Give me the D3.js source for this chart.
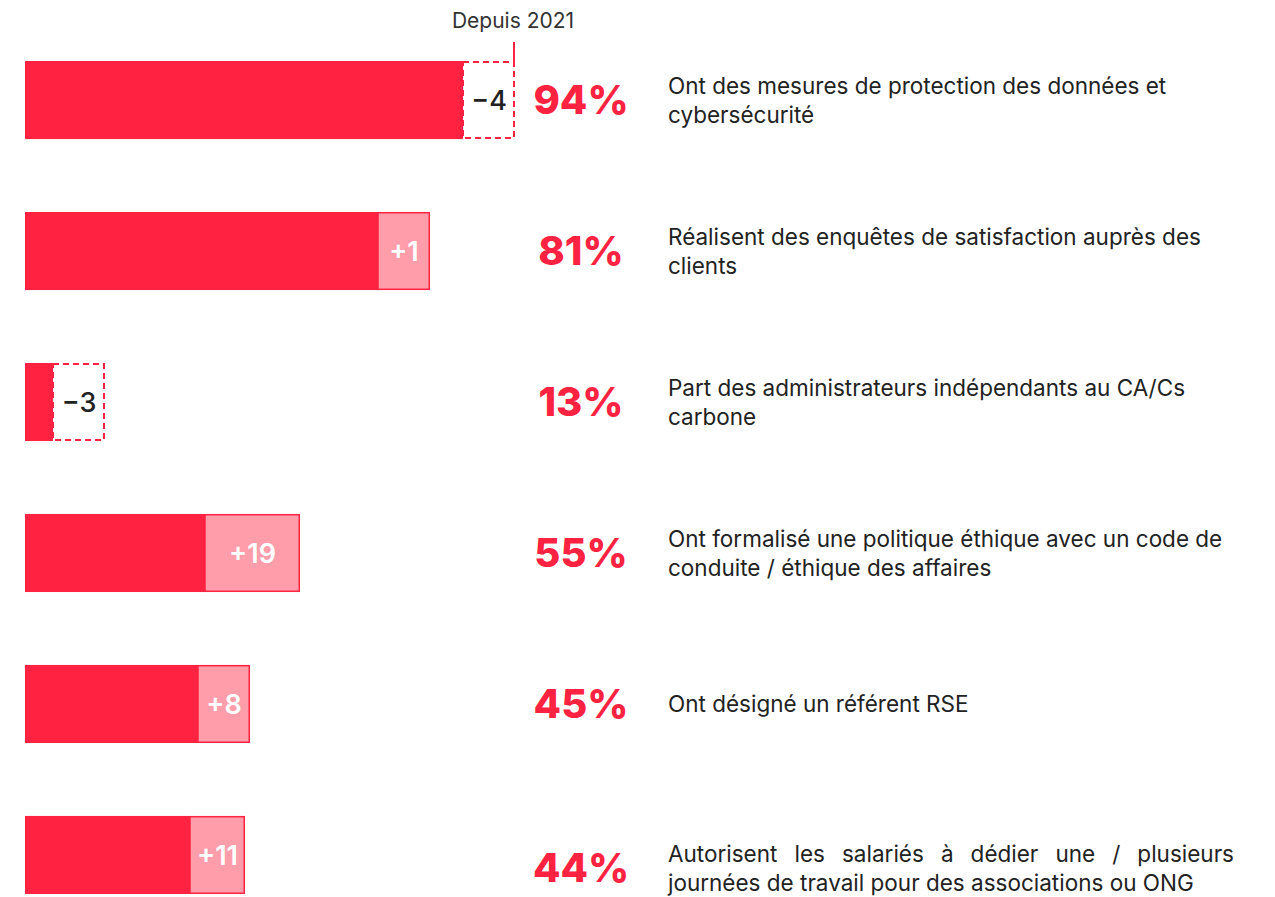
<!DOCTYPE html>
<html>
<head>
<meta charset="utf-8">
<script src="https://cdn.jsdelivr.net/npm/d3@7"></script>
<style>
  body { margin: 0; background: #fff; }
  svg { display: block; font-family: Inter, "Noto Sans", sans-serif; }
</style>
</head>
<body>
<div id="chart"></div>
<script>
// values
const labels = [
  ["Ont des mesures de protection des données et", "cybersécurité"],
  ["Réalisent des enquêtes de satisfaction auprès des", "clients"],
  ["Part des administrateurs indépendants au CA/Cs", "carbone"],
  ["Ont formalisé une politique éthique avec un code de", "conduite / éthique des affaires"],
  ["Ont désigné un référent RSE"],
  ["Autorisent les salariés à dédier une / plusieurs", "journées de travail pour des associations ou ONG"]
];
const values = [94, 81, 13, 55, 45, 44];
const changes = [-4, 1, -3, 19, 8, 11];
const sinceLabel = "Depuis 2021";

const W = 1275, H = 897;
const red = "#ff2341", pink = "#ff9dab", ink = "#222";
const minSeg = 52;

let rows = values.map((v, i) => ({
  label: labels[i], value: v, change: changes[i], prev: v - changes[i], i
}));

let svg = d3.select("#chart").append("svg").attr("width", W).attr("height", H);

let x = d3.scaleLinear().domain([0, 100]).range([25, 525]);
let y = d3.scaleBand().domain(d3.range(rows.length)).range([61, 894]).paddingInner(0.483).paddingOuter(0);
let bh = y.bandwidth();

// geometry of each bar: right end at max(value, prev), change segment at least minSeg wide
rows.forEach(d => {
  d.right = x(Math.max(d.value, d.prev));
  d.seg = Math.max(Math.abs(x(d.change) - x(0)), minSeg);
  d.solidEnd = d.right - d.seg;
  // the last row's texts sit a bit lower in the source
  d.textY = bh / 2 + (d.i === rows.length - 1 ? 13 : 0);
});

let g = svg.selectAll("g.row").data(rows).enter().append("g")
  .attr("class", "row")
  .attr("transform", d => `translate(0,${y(d.i)})`);

g.append("rect")
  .attr("x", x(0)).attr("y", 0)
  .attr("width", d => d.solidEnd - x(0)).attr("height", bh)
  .attr("fill", red);

// positive change: pink block with red outline
g.filter(d => d.change > 0).append("rect")
  .attr("x", d => d.solidEnd).attr("y", 0.75)
  .attr("width", d => d.seg - 0.75).attr("height", bh - 1.5)
  .attr("fill", pink).attr("stroke", red).attr("stroke-width", 1.5);

// negative change: dashed empty box
g.filter(d => d.change < 0).append("rect")
  .attr("x", d => d.solidEnd).attr("y", 1)
  .attr("width", d => d.seg - 1).attr("height", bh - 2)
  .attr("fill", "none").attr("stroke", red).attr("stroke-width", 2)
  .attr("stroke-dasharray", "6,4");

g.append("text")
  .attr("x", d => d.solidEnd + d.seg / 2)
  .attr("y", bh / 2)
  .attr("dy", "0.36em")
  .attr("text-anchor", "middle")
  .attr("font-size", 27)
  .attr("font-weight", d => d.change > 0 ? 600 : 500)
  .attr("fill", d => d.change > 0 ? "#fff" : ink)
  .text(d => (d.change > 0 ? "+" : "\u2212") + Math.abs(d.change));

// big percentage
g.append("text")
  .attr("x", 581)
  .attr("y", d => d.textY)
  .attr("dy", "0.36em")
  .attr("text-anchor", "middle")
  .attr("font-size", 40)
  .attr("font-weight", 800)
  .attr("fill", red)
  .text(d => d.value + "%");

// description
let lh = 29;
let desc = g.append("text")
  .attr("font-size", 22.5)
  .attr("fill", ink)
  .attr("transform", d => `translate(668,${d.textY - (d.label.length - 1) * lh / 2})`);
desc.selectAll("tspan").data(d => d.label.map((t, k) => ({t, k})))
  .enter().append("tspan")
  .attr("x", 0)
  .attr("y", d => d.k * lh)
  .attr("dy", "0.36em")
  .text(d => d.t);

// last row, first line is justified in the source
desc.filter(d => d.i === rows.length - 1).select("tspan").each(function () {
  let w = this.getComputedTextLength();
  let gaps = this.textContent.split(" ").length - 1;
  d3.select(this).attr("word-spacing", Math.max(0, (566 - w) / gaps));
});

// "Depuis 2021" marker over the first bar's right edge
let mx = rows[0].right - 1;
svg.append("text")
  .attr("x", mx - 1).attr("y", 28)
  .attr("text-anchor", "middle")
  .attr("font-size", 21)
  .attr("fill", "#333")
  .text(sinceLabel);
svg.append("line")
  .attr("x1", mx).attr("x2", mx)
  .attr("y1", 42).attr("y2", y(0))
  .attr("stroke", red).attr("stroke-width", 2);
</script>
</body>
</html>
